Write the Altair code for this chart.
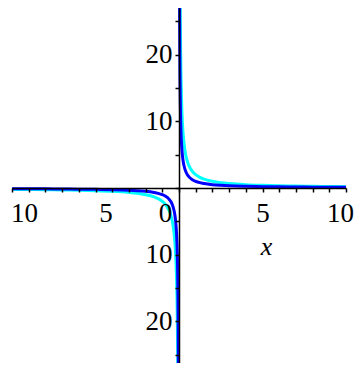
import altair as alt
import pandas as pd

blue_x = [0.037, 0.04, 0.05, 0.06, 0.08, 0.1, 0.12, 0.15, 0.2, 0.25, 0.3, 0.4, 0.5, 0.6, 0.8,
          1, 1.25, 1.5, 2, 2.5, 3, 4, 5, 6, 7, 8, 9, 10]
blue_y = [27, 25, 20, 16.67, 12.5, 10, 8.33, 6.67, 5, 4, 3.33, 2.5, 2, 1.67, 1.25,
          1, 0.8, 0.67, 0.5, 0.4, 0.33, 0.25, 0.2, 0.17, 0.14, 0.125, 0.11, 0.1]
cyan_x = [0.074, 0.08, 0.1, 0.12, 0.15, 0.2, 0.25, 0.3, 0.4, 0.5, 0.6, 0.8, 1, 1.25, 1.5,
          2, 2.5, 3, 4, 5, 6, 7, 8, 9, 10]
cyan_y = [27, 25, 20, 16.67, 13.33, 10, 8, 6.67, 5, 4, 3.33, 2.5, 2, 1.6, 1.33,
          1, 0.8, 0.67, 0.5, 0.4, 0.33, 0.29, 0.25, 0.22, 0.2]

x_ticks = list(range(-10, 11))
y_ticks = [-25, -20, -15, -10, -5, 0, 5, 10, 15, 20, 25]
y_domain = [-26.25, 27]

rows = []
for name, xs, ys in [("cyan", cyan_x, cyan_y), ("blue", blue_x, blue_y)]:
    for xv, yv in zip(xs, ys):
        rows.append({"x": xv, "y": yv, "series": name, "branch": name + "+"})
        rows.append({"x": -xv, "y": -yv, "series": name, "branch": name + "-"})
df = pd.DataFrame(rows)

W, H = 334, 355
FONT = "Liberation Serif"
x_offset = -H * (0 - y_domain[0]) / (y_domain[1] - y_domain[0])

x_axis = alt.Axis(
    values=x_ticks, offset=x_offset, grid=False, domainColor="black", domainWidth=1.5,
    tickColor="black", tickWidth=1.5, tickSize=4, labelPadding=8,
    labelExpr="datum.value % 5 === 0 ? format(abs(datum.value), 'd') : ''",
    labelFont=FONT, labelFontSize=27, labelColor="black",
    labelOverlap=False, labelFlush=False,
    labelOffset={"condition": [{"test": "datum.value == -10", "value": 12},
                               {"test": "datum.value == -5", "value": 10},
                               {"test": "datum.value == 0", "value": -14},
                               {"test": "datum.value == 10", "value": -6}],
                 "value": 0},
    title="x", titleFont=FONT, titleFontStyle="italic", titleFontWeight="normal",
    titleFontSize=26, titleColor="black", titleX=254, titleY=58,
    titleAlign="center", titleBaseline="middle", zindex=1,
)
y_axis = alt.Axis(
    values=y_ticks, offset=-(W / 2), grid=False, domainColor="black", domainWidth=1.5,
    tickColor="black", tickWidth=1.5, tickSize=4, labelPadding=3,
    labelExpr="datum.value % 10 === 0 && datum.value !== 0 ? format(abs(datum.value), 'd') : ''",
    labelFont=FONT, labelFontSize=27, labelColor="black",
    labelOverlap=False, labelFlush=False, labelBaseline="middle",
    title=None, zindex=1,
)

chart = alt.Chart(df).mark_line(strokeWidth=3, interpolate="monotone", clip=True).encode(
    x=alt.X("x:Q", scale=alt.Scale(domain=[-10, 10], nice=False, zero=False), axis=x_axis),
    y=alt.Y("y:Q", scale=alt.Scale(domain=y_domain, nice=False, zero=False), axis=y_axis),
    color=alt.Color("series:N", scale=alt.Scale(domain=["cyan", "blue"], range=["#00FFFF", "#0000FF"]), legend=None),
    detail="branch:N",
    order=alt.Order("x:Q"),
).properties(
    width=W, height=H,
    autosize=alt.AutoSizeParams(type="none"),
    padding={"left": 4, "top": 0, "right": 8, "bottom": 0},
).configure(font=FONT).configure_axis(labelFont=FONT, titleFont=FONT).configure_view(stroke=None)

chart.save("out.html", embed_options={"renderer": "svg", "actions": False})
